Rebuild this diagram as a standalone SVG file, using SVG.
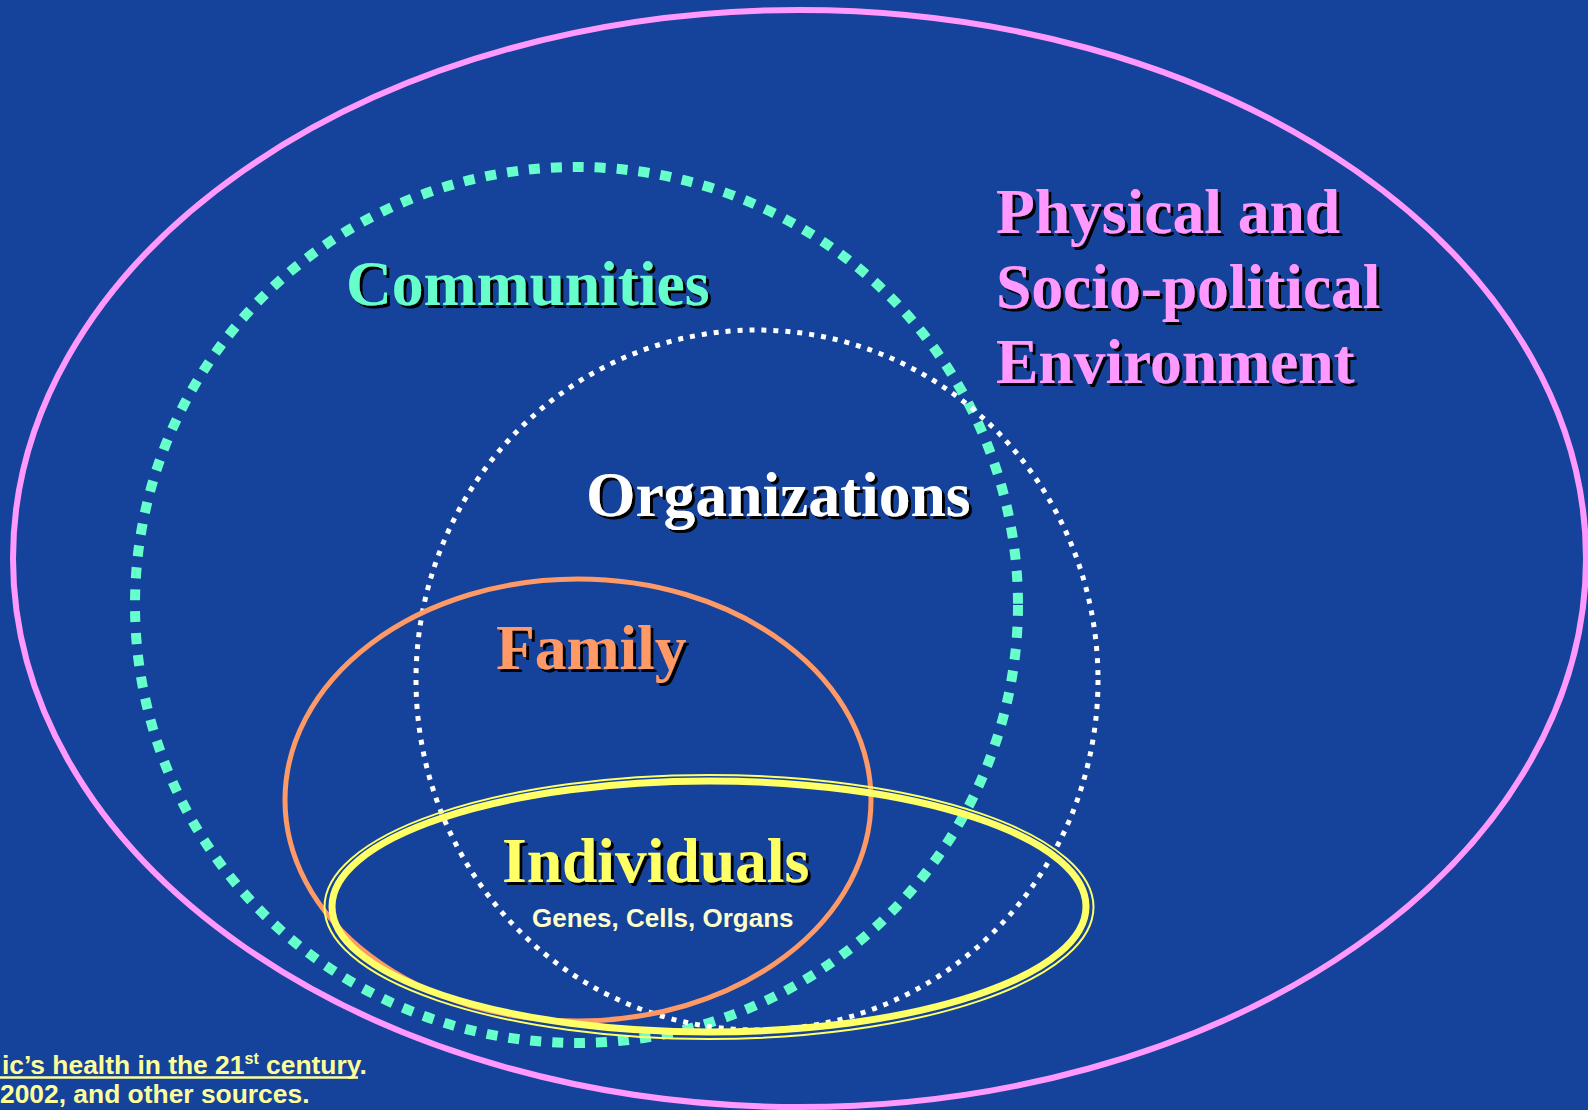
<svg xmlns="http://www.w3.org/2000/svg" width="1588" height="1110" viewBox="0 0 1588 1110">
  <defs>
    <filter id="shadow" x="-10%" y="-20%" width="130%" height="150%">
      <feDropShadow dx="3" dy="3" stdDeviation="0.4" flood-color="#000000" flood-opacity="1"/>
    </filter>
  </defs>
  <style>
    .ring { fill: none; }
    .title { font-family: "Liberation Serif", "Times New Roman", serif; font-weight: bold; font-size: 63.5px; filter: url(#shadow); }
    .sans { font-family: "Liberation Sans", Arial, sans-serif; font-weight: bold; font-size: 26px; }
    .foot { font-family: "Liberation Sans", Arial, sans-serif; font-weight: bold; font-size: 26.4px; fill: #FFFF99; }
  </style>
  <rect x="0" y="0" width="1588" height="1110" fill="#15439B"/>

  <g id="environment">
    <ellipse class="ring" cx="799.5" cy="558.5" rx="786.5" ry="548.5" stroke="#FF99FF" stroke-width="6"/>
  </g>
  <g id="communities">
    <ellipse class="ring" cx="576.5" cy="605" rx="441.5" ry="438" stroke="#66FFCC" stroke-width="10" stroke-dasharray="11 11"/>
  </g>
  <g id="organizations">
    <ellipse class="ring" cx="757" cy="680" rx="341" ry="350" stroke="#FFFFFF" stroke-width="5" stroke-dasharray="5 7"/>
  </g>
  <g id="family">
    <ellipse class="ring" cx="578" cy="800" rx="293" ry="221" stroke="#FF9966" stroke-width="5"/>
  </g>
  <g id="individuals">
    <ellipse class="ring" cx="709" cy="907" rx="384.5" ry="132" stroke="#FFFF66" stroke-width="2"/>
    <ellipse class="ring" cx="709" cy="906.5" rx="377" ry="125.5" stroke="#FFFF66" stroke-width="7"/>
  </g>

  <g id="labels">
    <text class="title" fill="#FF99FF">
      <tspan x="996" y="233">Physical and</tspan>
      <tspan x="996" y="308">Socio-political</tspan>
      <tspan x="996" y="383">Environment</tspan>
    </text>
    <text class="title" x="346" y="305" fill="#66FFCC">Communities</text>
    <text class="title" x="586" y="516" fill="#FFFFFF">Organizations</text>
    <text class="title" x="496" y="669" fill="#FF9966">Family</text>
    <text class="title" x="502" y="882" fill="#FFFF66">Individuals</text>
    <text class="sans" x="532" y="927" fill="#FFFFCC">Genes, Cells, Organs</text>
  </g>

  <g id="footer">
    <text class="foot" x="2" y="1074">ic’s health in the 21<tspan font-size="16" dy="-10">st</tspan><tspan dy="10"> century.</tspan></text>
    <line x1="0" y1="1077.5" x2="358" y2="1077.5" stroke="#FFFF99" stroke-width="2.5"/>
    <text class="foot" x="0" y="1103">2002, and other sources.</text>
  </g>
</svg>
